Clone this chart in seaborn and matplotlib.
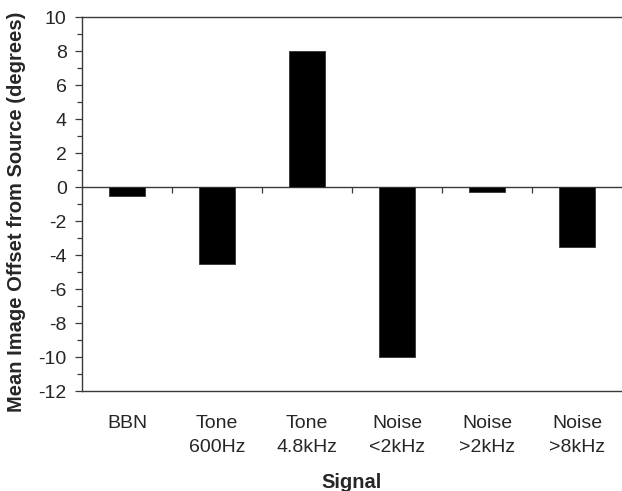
import matplotlib
matplotlib.use("Agg")
import matplotlib.pyplot as plt
import seaborn as sns
import pandas as pd
from matplotlib.ticker import MultipleLocator

categories = ["BBN", "Tone\n600Hz", "Tone\n4.8kHz", "Noise\n<2kHz", "Noise\n>2kHz", "Noise\n>8kHz"]
offsets = [-0.5, -4.5, 8.0, -10.0, -0.3, -3.5]
y_ticks = [-12, -10, -8, -6, -4, -2, 0, 2, 4, 6, 8, 10]

df = pd.DataFrame({"Signal": categories, "Offset": offsets})

sns.set_style("white")
plt.rcParams["font.family"] = ["Liberation Sans", "DejaVu Sans"]

fig = plt.figure(figsize=(6.22, 4.91), dpi=100)
ax = fig.add_axes([82 / 622, 1 - 391 / 491, 1 - 82 / 622, (391 - 17) / 491])

sns.barplot(data=df, x="Signal", y="Offset", color="black", width=0.41,
            edgecolor="#333333", linewidth=0.6, saturation=1, ax=ax)

ax.set_xlim(-0.5, len(categories) - 0.5)
ax.set_ylim(y_ticks[0], y_ticks[-1])
ax.set_yticks(y_ticks)
ax.yaxis.set_minor_locator(MultipleLocator(1))
ax.set_yticklabels([str(v) for v in y_ticks], fontsize=14)

line_col = "#3a3a3a"
for s in ["left", "bottom", "top"]:
    ax.spines[s].set_visible(True)
    ax.spines[s].set_color(line_col)
    ax.spines[s].set_linewidth(1.0)
ax.spines["right"].set_visible(False)

ax.tick_params(axis="y", which="major", direction="out", length=5, width=0.9,
               color=line_col, pad=6, left=True)
ax.tick_params(axis="y", which="minor", direction="out", length=3.5, width=0.9,
               color=line_col, left=True)
ax.tick_params(axis="x", which="major", length=0, pad=17, labelsize=14)
for lab in ax.get_xticklabels():
    lab.set_linespacing(1.6)

# zero line and separators between categories
ax.axhline(0, color=line_col, lw=1.0, zorder=0.5)
seps = [i + 0.5 for i in range(len(categories) - 1)]
ax.vlines(seps, 0, -0.35, color=line_col, lw=0.9)

ax.set_xlabel("Signal", fontsize=14.5, fontweight="bold", labelpad=12)
ax.set_ylabel("Mean Image Offset from Source (degrees)", fontsize=14.5,
              fontweight="bold")
ax.yaxis.set_label_coords(-0.104, 0.478)

fig.savefig("out.png", dpi=100)
